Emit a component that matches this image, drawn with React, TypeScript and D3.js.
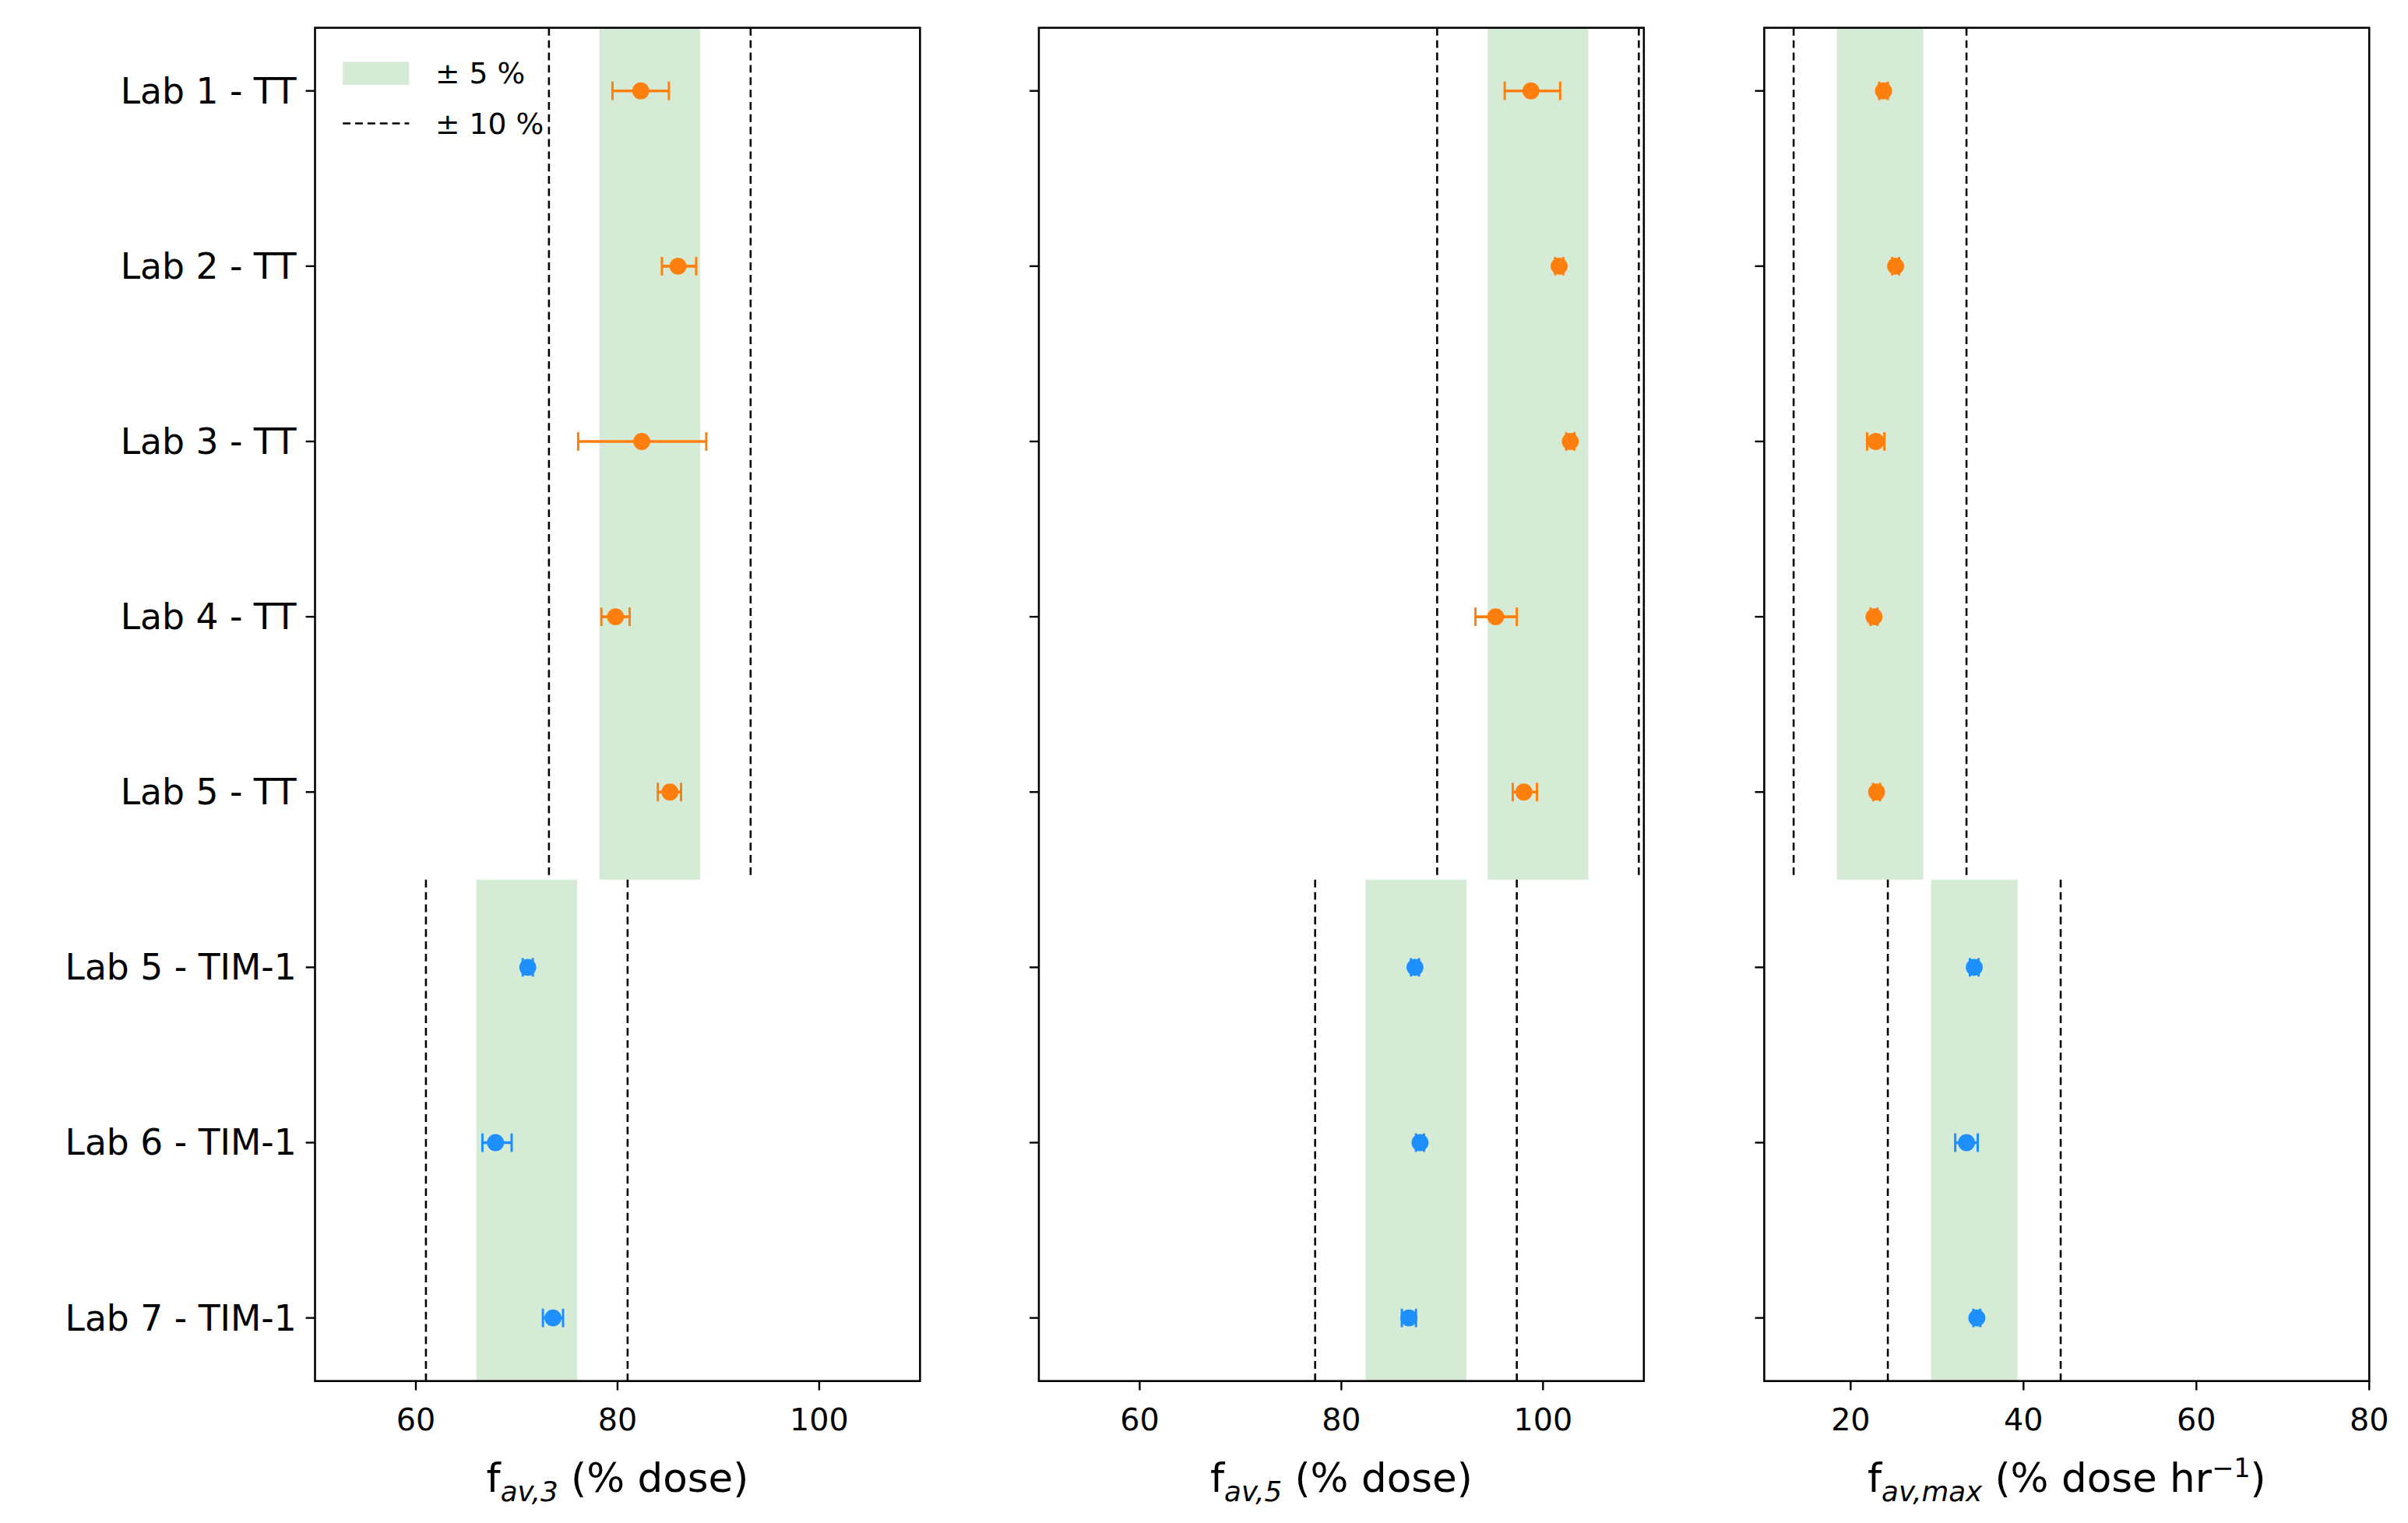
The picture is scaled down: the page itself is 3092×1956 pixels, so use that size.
import React, { useEffect, useRef } from 'react';
import * as d3 from 'd3';

const labs = ['Lab 1 - TT', 'Lab 2 - TT', 'Lab 3 - TT', 'Lab 4 - TT', 'Lab 5 - TT', 'Lab 5 - TIM-1', 'Lab 6 - TIM-1', 'Lab 7 - TIM-1'];
const isTT = [true, true, true, true, true, false, false, false];

// per panel: means, error lows, error highs, group centres (TT, TIM)
const f3Mean = [82.3, 86.0, 82.4, 79.8, 85.2, 71.1, 67.9, 73.6];
const f3Lo = [79.5, 84.4, 76.1, 78.4, 84.0, 70.6, 66.6, 72.6];
const f3Hi = [85.1, 87.8, 88.8, 81.2, 86.3, 71.6, 69.5, 74.6];
const f3Centre = [83.2, 71.0];

const f5Mean = [98.8, 101.6, 102.7, 95.3, 98.1, 87.3, 87.8, 86.7];
const f5Lo = [96.2, 101.2, 102.3, 93.3, 97.0, 86.9, 87.4, 86.0];
const f5Hi = [101.7, 102.0, 103.1, 97.4, 99.4, 87.7, 88.2, 87.4];
const f5Centre = [99.5, 87.4];

const fmMean = [23.8, 25.2, 22.9, 22.7, 23.0, 34.3, 33.4, 34.6];
const fmLo = [23.3, 24.8, 21.9, 22.3, 22.6, 33.8, 32.1, 34.2];
const fmHi = [24.3, 25.6, 23.9, 23.1, 23.4, 34.8, 34.7, 35.0];
const fmCentre = [23.4, 34.3];

const ticks12 = [60, 80, 100];
const ticks3 = [20, 40, 60, 80];

const W = 1560, H = 987;
const top = 18, bottom = 895;

const panels = [
  { left: 204, domain: [50, 110], ticks: ticks12, mean: f3Mean, lo: f3Lo, hi: f3Hi, centre: f3Centre, sub: 'av,3', unit: ' (% dose)', sup: '' },
  { left: 673, domain: [50, 110], ticks: ticks12, mean: f5Mean, lo: f5Lo, hi: f5Hi, centre: f5Centre, sub: 'av,5', unit: ' (% dose)', sup: '' },
  { left: 1143, domain: [10, 80], ticks: ticks3, mean: fmMean, lo: fmLo, hi: fmHi, centre: fmCentre, sub: 'av,max', unit: ' (% dose hr', sup: '−1' },
];

const App: React.FC = () => {
  const ref = useRef<SVGSVGElement>(null);

  useEffect(() => {
    document.body.style.margin = '0';
    const svg = d3.select(ref.current!);
    svg.selectAll('*').remove();
    svg.attr('viewBox', `0 0 ${W} ${H}`).style('font-family', 'DejaVu Sans');
    svg.append('rect').attr('width', W).attr('height', H).attr('fill', 'white');

    const y = d3.scaleLinear().domain([-0.36, 7.36]).range([top, bottom]);

    panels.forEach((p, pi) => {
      const x = d3.scaleLinear().domain(p.domain).range([p.left, p.left + 392]);
      const g = svg.append('g');
      const clipId = `clip${pi}`;
      svg.append('clipPath').attr('id', clipId).append('rect')
        .attr('x', p.left).attr('y', top).attr('width', 392).attr('height', bottom - top);
      const plot = g.append('g').attr('clip-path', `url(#${clipId})`);

      const groups = [{ c: p.centre[0], y0: -0.5, y1: 4.5 }, { c: p.centre[1], y0: 4.5, y1: 7.5 }];
      groups.forEach(gr => {
        plot.append('rect')
          .attr('x', x(gr.c - 5)).attr('width', x(gr.c + 5) - x(gr.c - 5))
          .attr('y', y(gr.y0)).attr('height', y(gr.y1) - y(gr.y0))
          .attr('fill', '#d6ebd6');
        [-10, 10].forEach(d => {
          plot.append('line')
            .attr('x1', x(gr.c + d)).attr('x2', x(gr.c + d))
            .attr('y1', y(gr.y0)).attr('y2', y(gr.y1))
            .attr('stroke', 'black').attr('stroke-width', 1.3).attr('stroke-dasharray', '5,3');
        });
      });

      labs.forEach((_, i) => {
        const col = isTT[i] ? '#ff7f0e' : '#1e8fff';
        const yy = y(i);
        plot.append('line').attr('x1', x(p.lo[i])).attr('x2', x(p.hi[i])).attr('y1', yy).attr('y2', yy)
          .attr('stroke', col).attr('stroke-width', 1.8);
        [p.lo[i], p.hi[i]].forEach(v => {
          plot.append('line').attr('x1', x(v)).attr('x2', x(v)).attr('y1', yy - 6).attr('y2', yy + 6)
            .attr('stroke', col).attr('stroke-width', 1.5);
        });
        plot.append('circle').attr('cx', x(p.mean[i])).attr('cy', yy).attr('r', 5.5).attr('fill', col);
      });

      g.append('rect').attr('x', p.left).attr('y', top).attr('width', 392).attr('height', bottom - top)
        .attr('fill', 'none').attr('stroke', 'black').attr('stroke-width', 1.3);

      p.ticks.forEach(t => {
        g.append('line').attr('x1', x(t)).attr('x2', x(t)).attr('y1', bottom).attr('y2', bottom + 6)
          .attr('stroke', 'black').attr('stroke-width', 1.2);
        g.append('text').attr('x', x(t)).attr('y', bottom + 32).attr('text-anchor', 'middle')
          .attr('font-size', 20).text(t);
      });
      labs.forEach((l, i) => {
        g.append('line').attr('x1', p.left - 6).attr('x2', p.left).attr('y1', y(i)).attr('y2', y(i))
          .attr('stroke', 'black').attr('stroke-width', 1.2);
        if (pi === 0) {
          g.append('text').attr('x', p.left - 12).attr('y', y(i)).attr('dy', '0.35em')
            .attr('text-anchor', 'end').attr('font-size', 23).text(l);
        }
      });

      const xl = g.append('text').attr('x', p.left + 196).attr('y', bottom + 72)
        .attr('text-anchor', 'middle').attr('font-size', 26);
      xl.append('tspan').text('f');
      xl.append('tspan').attr('font-size', 18).attr('font-style', 'italic').attr('dy', 6).text(p.sub);
      xl.append('tspan').attr('dy', -6).text(p.unit);
      if (p.sup) {
        xl.append('tspan').attr('font-size', 17).attr('dy', -10).text(p.sup);
        xl.append('tspan').attr('dy', 10).text(')');
      }
    });

    // legend
    const lg = svg.append('g');
    lg.append('rect').attr('x', 222).attr('y', 40).attr('width', 43).attr('height', 15).attr('fill', '#d6ebd6');
    lg.append('text').attr('x', 282).attr('y', 54).attr('font-size', 19).text('± 5 %');
    lg.append('line').attr('x1', 222).attr('x2', 265).attr('y1', 80).attr('y2', 80)
      .attr('stroke', 'black').attr('stroke-width', 1.3).attr('stroke-dasharray', '5,3');
    lg.append('text').attr('x', 282).attr('y', 87).attr('font-size', 19).text('± 10 %');
  }, []);

  return <svg ref={ref} width={3092} height={1956} style={{ display: 'block' }} />;
};

export default App;
